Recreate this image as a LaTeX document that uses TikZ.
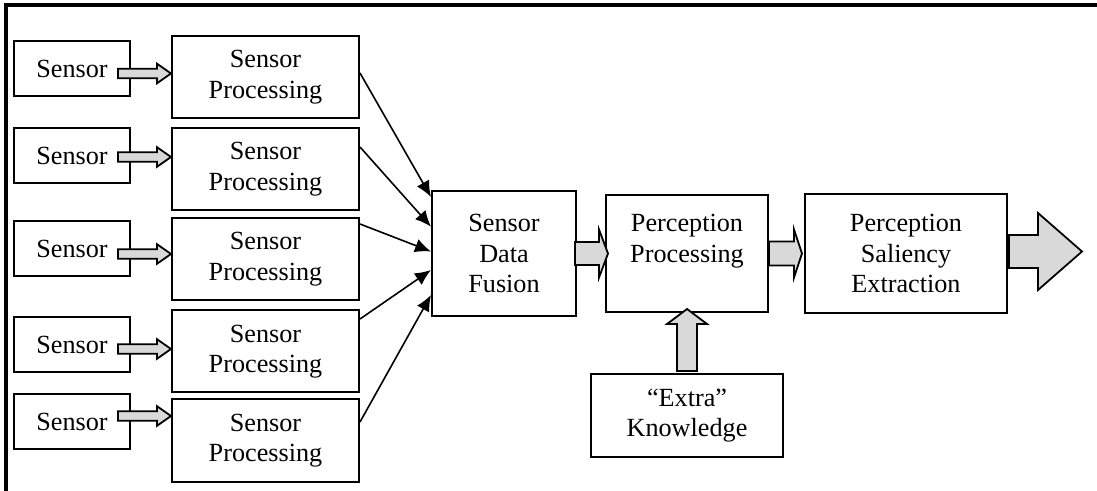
\documentclass[tikz,border=0pt]{standalone}
\usepackage{fontspec}
\setmainfont{Liberation Serif}
\usetikzlibrary{arrows.meta,calc}

% fat outlined arrows: from, to, shaft half width, head half width, head length
\newcommand{\fatarrowright}[5]{%
  \draw[fatarrow] let \p1=#1, \p2=#2 in
    (\x1,\y1+#3) -- (\x2-#5,\y1+#3) -- (\x2-#5,\y1+#4) -- (\x2,\y1)
    -- (\x2-#5,\y1-#4) -- (\x2-#5,\y1-#3) -- (\x1,\y1-#3) -- cycle;}
\newcommand{\fatarrowup}[5]{%
  \draw[fatarrow] let \p1=#1, \p2=#2 in
    (\x1+#3,\y1) -- (\x1+#3,\y2-#5) -- (\x1+#4,\y2-#5) -- (\x1,\y2)
    -- (\x1-#4,\y2-#5) -- (\x1-#3,\y2-#5) -- (\x1-#3,\y1) -- cycle;}

\begin{document}
\begin{tikzpicture}[
        x=0.5pt, y=-0.5pt,
        every node/.style={font=\fontsize{13.1}{15.2}\selectfont},
        block/.style={draw, line width=1pt, align=center, inner sep=0pt},
        sensorbox/.style={block, minimum width=58pt, minimum height=27.5pt},
        procbox/.style={block, minimum width=93.5pt, minimum height=41pt},
        fatarrow/.style={draw, fill=gray!30, line width=0.9pt, line join=miter},
        feed/.style={line width=0.8pt, -{Latex[length=8pt,width=7pt]}}
    ]
    \useasboundingbox (0,0) rectangle (1097,491);
    % open frame
    \draw[line width=2pt, line join=miter] (6,491) -- (6,5.3) -- (1097,5.3);

    % sensor rows
    \foreach \i/\ys/\yp in {1/68.5/77, 2/155.5/169, 3/248.5/259, 4/345/351.5, 5/421.5/440.5} {
        \node[sensorbox] (s\i) at (72,\ys) {Sensor};
        \node[procbox] (sp\i) at (265.5,\yp) {Sensor\\Processing};
    }

    \node[block, minimum width=72pt, minimum height=62.5pt] (fusion) at (504,253.5)
        {Sensor\\Data\\Fusion};
    \node[block, minimum width=81pt, minimum height=58.5pt] (percep) at (687,253.5)
        {Perception\\Processing\\~};
    \node[block, minimum width=101pt, minimum height=59.5pt] (saliency) at (906,253.5)
        {Perception\\Saliency\\Extraction};
    \node[block, minimum width=96pt, minimum height=41.5pt] (extra) at (687,415.5)
        {“Extra”\\Knowledge};
    \coordinate (outtip) at (1082,251.5);

    % sensor -> processing
    \foreach \i/\dy in {1/-2.5, 2/-0.75, 3/-2.75, 4/-2, 5/2.75} {
        \fatarrowright{([xshift=-6.5pt,yshift=\dy pt]s\i.east)}{(sp\i.west)}{2.4pt}{4.9pt}{7pt}
    }

    % processing -> fusion
    \foreach \i/\a/\b in {1/2/28.25, 2/11/13.4, 3/17.5/1, 4/16.25/-8.25, 5/9.25/-20.75}
        \draw[feed] ([yshift=\a pt]sp\i.east) -- ([yshift=\b pt]fusion.west);

    \fatarrowright{([xshift=-1pt]fusion.east)}{([xshift=1.5pt]percep.west)}{5.75pt}{12pt}{4.5pt}
    \fatarrowright{(percep.east)}{([xshift=-1pt]saliency.west)}{6pt}{12pt}{4pt}
    \fatarrowright{([xshift=0.5pt,yshift=1pt]saliency.east)}{(outtip)}{8.25pt}{19.25pt}{22pt}
    \fatarrowup{([yshift=1pt]extra.north)}{([yshift=2pt]percep.south)}{5pt}{10pt}{7.5pt}
\end{tikzpicture}
\end{document}
